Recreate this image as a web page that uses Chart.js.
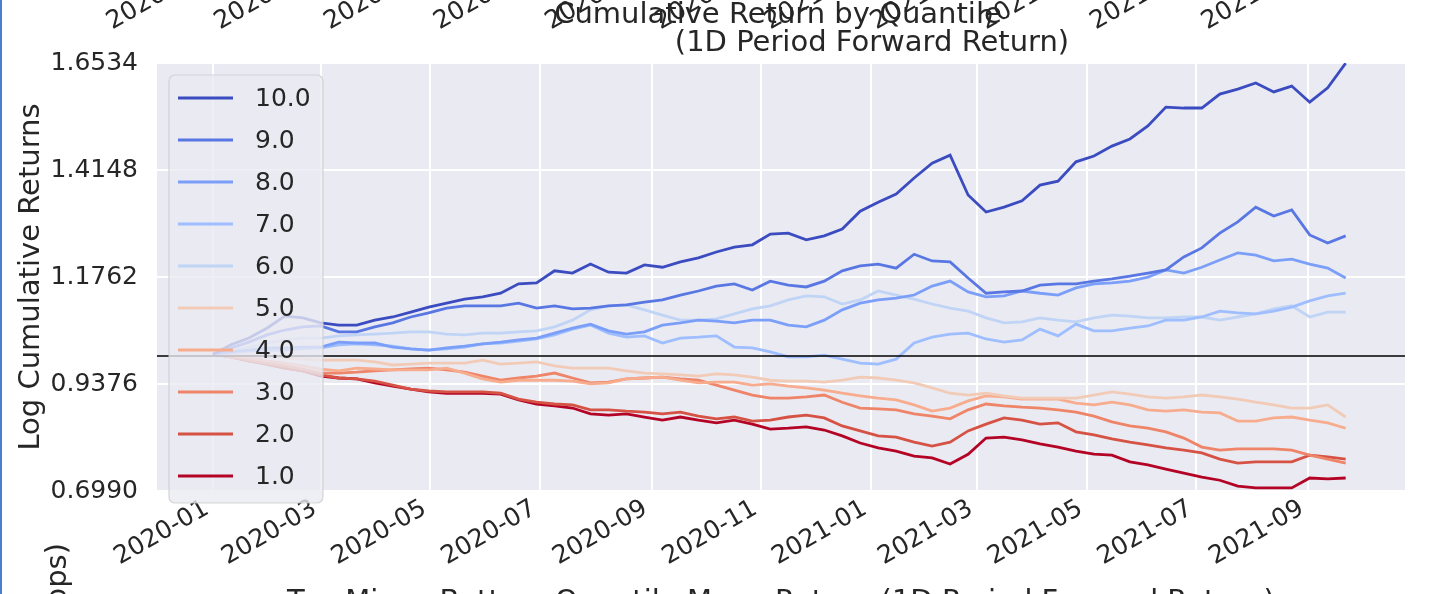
<!DOCTYPE html>
<html>
<head>
<meta charset="utf-8">
<script src="https://cdn.jsdelivr.net/npm/chart.js@4.4.1/dist/chart.umd.min.js"></script>
<style>
  html, body { margin: 0; padding: 0; background: #fff; }
  #wrap { width: 1438px; height: 594px; position: relative; overflow: hidden; }
</style>
</head>
<body>
<div id="wrap"><canvas id="chart" width="1438" height="594"></canvas></div>
<script>
// days since 2020-01-01
const days = [0, 10, 20, 30, 40, 50, 60, 70, 80, 90, 100, 110, 120, 130, 140, 150,
  160, 170, 180, 190, 200, 210, 220, 230, 240, 250, 260, 270, 280, 290, 300, 310,
  320, 330, 340, 350, 360, 370, 380, 390, 400, 410, 420, 430, 440, 450, 460, 470,
  480, 490, 500, 510, 520, 530, 540, 550, 560, 570, 580, 590, 600, 610, 620, 630];

const quantiles = ['10.0', '9.0', '8.0', '7.0', '6.0', '5.0', '4.0', '3.0', '2.0', '1.0'];
const colors = ['#3b4cc0', '#5977e3', '#7b9ff9', '#9ebeff', '#c0d4f5',
  '#f2cbb7', '#f7ac8e', '#ee8468', '#d65244', '#b40426'];

const q10 = [1.004, 1.025, 1.040, 1.062, 1.089, 1.085, 1.074, 1.069, 1.069, 1.080, 1.087, 1.098, 1.109, 1.118, 1.127, 1.132,
  1.140, 1.161, 1.163, 1.190, 1.185, 1.205, 1.187, 1.185, 1.203, 1.198, 1.210, 1.219, 1.232, 1.243, 1.248, 1.272,
  1.274, 1.259, 1.268, 1.283, 1.323, 1.343, 1.361, 1.397, 1.430, 1.448, 1.359, 1.321, 1.332, 1.346, 1.381, 1.390,
  1.433, 1.446, 1.468, 1.484, 1.513, 1.555, 1.553, 1.553, 1.584, 1.595, 1.609, 1.589, 1.602, 1.566, 1.598, 1.653];
const q9 = [1.004, 1.018, 1.031, 1.047, 1.058, 1.065, 1.067, 1.054, 1.054, 1.065, 1.074, 1.087, 1.096, 1.107, 1.112, 1.112,
  1.112, 1.118, 1.107, 1.112, 1.105, 1.107, 1.112, 1.114, 1.120, 1.125, 1.136, 1.145, 1.156, 1.161, 1.147, 1.167,
  1.158, 1.154, 1.167, 1.190, 1.201, 1.205, 1.196, 1.227, 1.212, 1.210, 1.174, 1.140, 1.143, 1.145, 1.158, 1.161,
  1.161, 1.167, 1.172, 1.178, 1.185, 1.192, 1.221, 1.241, 1.274, 1.299, 1.332, 1.312, 1.326, 1.270, 1.252, 1.268];
const q8 = [1.004, 1.009, 1.013, 1.018, 1.018, 1.020, 1.020, 1.031, 1.029, 1.029, 1.020, 1.016, 1.013, 1.018, 1.022, 1.027,
  1.031, 1.036, 1.040, 1.051, 1.062, 1.071, 1.056, 1.049, 1.054, 1.069, 1.074, 1.080, 1.078, 1.074, 1.080, 1.080,
  1.069, 1.065, 1.080, 1.103, 1.118, 1.125, 1.129, 1.136, 1.156, 1.167, 1.143, 1.132, 1.134, 1.145, 1.140, 1.136,
  1.152, 1.161, 1.163, 1.167, 1.176, 1.192, 1.185, 1.198, 1.214, 1.230, 1.225, 1.212, 1.216, 1.205, 1.196, 1.174];
const q7 = [1.004, 1.007, 1.011, 1.013, 1.013, 1.016, 1.018, 1.025, 1.027, 1.025, 1.022, 1.016, 1.013, 1.016, 1.020, 1.027,
  1.029, 1.033, 1.038, 1.047, 1.060, 1.069, 1.051, 1.042, 1.045, 1.029, 1.040, 1.042, 1.045, 1.020, 1.018, 1.009,
  0.998, 0.998, 1.002, 0.993, 0.984, 0.982, 0.993, 1.029, 1.042, 1.049, 1.051, 1.038, 1.031, 1.036, 1.060, 1.045,
  1.071, 1.056, 1.056, 1.062, 1.067, 1.080, 1.080, 1.087, 1.100, 1.096, 1.094, 1.100, 1.109, 1.123, 1.134, 1.140];
const q6 = [1.004, 1.013, 1.020, 1.029, 1.036, 1.040, 1.040, 1.045, 1.047, 1.049, 1.051, 1.054, 1.054, 1.049, 1.047, 1.051,
  1.051, 1.054, 1.056, 1.065, 1.080, 1.103, 1.112, 1.114, 1.103, 1.091, 1.080, 1.080, 1.083, 1.094, 1.105, 1.112,
  1.125, 1.134, 1.132, 1.116, 1.125, 1.145, 1.136, 1.127, 1.116, 1.107, 1.100, 1.085, 1.074, 1.076, 1.085, 1.080,
  1.076, 1.085, 1.091, 1.089, 1.085, 1.085, 1.087, 1.087, 1.080, 1.087, 1.094, 1.105, 1.112, 1.087, 1.098, 1.098];
const q5 = [1.004, 1.002, 1.000, 0.998, 0.996, 0.993, 0.991, 0.991, 0.991, 0.987, 0.980, 0.982, 0.984, 0.984, 0.984, 0.991,
  0.982, 0.984, 0.987, 0.978, 0.973, 0.973, 0.973, 0.967, 0.962, 0.960, 0.958, 0.955, 0.960, 0.958, 0.953, 0.946,
  0.944, 0.944, 0.942, 0.946, 0.953, 0.951, 0.946, 0.940, 0.929, 0.917, 0.913, 0.917, 0.911, 0.906, 0.906, 0.906,
  0.906, 0.913, 0.920, 0.915, 0.909, 0.906, 0.909, 0.913, 0.909, 0.904, 0.897, 0.891, 0.884, 0.884, 0.891, 0.864];
const q4 = [1.004, 1.000, 0.996, 0.989, 0.984, 0.978, 0.971, 0.967, 0.973, 0.971, 0.969, 0.969, 0.969, 0.973, 0.962, 0.949,
  0.942, 0.946, 0.946, 0.946, 0.944, 0.938, 0.940, 0.949, 0.951, 0.953, 0.946, 0.940, 0.942, 0.942, 0.935, 0.938,
  0.933, 0.929, 0.924, 0.917, 0.911, 0.906, 0.902, 0.891, 0.877, 0.884, 0.900, 0.911, 0.909, 0.904, 0.904, 0.904,
  0.895, 0.891, 0.897, 0.891, 0.880, 0.877, 0.880, 0.875, 0.873, 0.855, 0.855, 0.862, 0.864, 0.857, 0.851, 0.839];
const q3 = [1.004, 0.998, 0.991, 0.984, 0.978, 0.971, 0.962, 0.962, 0.964, 0.967, 0.969, 0.971, 0.973, 0.969, 0.964, 0.955,
  0.946, 0.951, 0.955, 0.962, 0.951, 0.940, 0.942, 0.949, 0.951, 0.953, 0.949, 0.946, 0.935, 0.924, 0.913, 0.906,
  0.906, 0.909, 0.913, 0.897, 0.884, 0.882, 0.880, 0.871, 0.866, 0.860, 0.880, 0.893, 0.889, 0.886, 0.884, 0.880,
  0.875, 0.866, 0.853, 0.844, 0.839, 0.831, 0.817, 0.797, 0.790, 0.793, 0.793, 0.793, 0.790, 0.779, 0.770, 0.761];
const q2 = [1.004, 0.998, 0.989, 0.982, 0.973, 0.967, 0.958, 0.951, 0.949, 0.944, 0.935, 0.926, 0.922, 0.920, 0.920, 0.920,
  0.917, 0.904, 0.897, 0.893, 0.891, 0.880, 0.880, 0.877, 0.875, 0.871, 0.875, 0.866, 0.860, 0.864, 0.855, 0.857,
  0.864, 0.868, 0.862, 0.844, 0.833, 0.822, 0.819, 0.808, 0.799, 0.808, 0.833, 0.848, 0.862, 0.857, 0.848, 0.851,
  0.831, 0.824, 0.815, 0.808, 0.802, 0.795, 0.790, 0.784, 0.770, 0.761, 0.764, 0.764, 0.764, 0.779, 0.775, 0.770];
const q1 = [1.004, 0.998, 0.989, 0.982, 0.973, 0.967, 0.955, 0.951, 0.949, 0.940, 0.933, 0.926, 0.920, 0.917, 0.917, 0.917,
  0.915, 0.902, 0.893, 0.889, 0.884, 0.871, 0.868, 0.871, 0.864, 0.857, 0.864, 0.857, 0.851, 0.857, 0.848, 0.837,
  0.839, 0.842, 0.835, 0.822, 0.806, 0.795, 0.788, 0.777, 0.773, 0.759, 0.781, 0.817, 0.819, 0.813, 0.804, 0.797,
  0.788, 0.781, 0.779, 0.764, 0.757, 0.748, 0.739, 0.730, 0.723, 0.710, 0.706, 0.706, 0.706, 0.728, 0.726, 0.728];

const series = [q10, q9, q8, q7, q6, q5, q4, q3, q2, q1];

const xTickDays = [0, 60, 121, 182, 244, 305, 366, 425, 486, 547, 609];
const xTickLabels = ['2020-01', '2020-03', '2020-05', '2020-07', '2020-09', '2020-11',
  '2021-01', '2021-03', '2021-05', '2021-07', '2021-09'];
const yTicks = [0.6990, 0.9376, 1.1762, 1.4148, 1.6534];

const FONT = 'DejaVu Sans';
const TEXT = '#262626';
const TICK_SIZE = 25;
const LABEL_SIZE = 29;
const X_LBL_PAD = 3;
const X_LBL_OFF = -6;
Chart.defaults.font.family = FONT;
Chart.defaults.color = TEXT;

const decor = {
  id: 'decor',
  beforeDraw(chart) {
    const { ctx, chartArea: a } = chart;
    ctx.save();
    ctx.fillStyle = '#ffffff';
    ctx.fillRect(0, 0, chart.width, chart.height);
    ctx.fillStyle = '#eaeaf2';
    ctx.fillRect(a.left, a.top, a.right - a.left, a.bottom - a.top);
    ctx.restore();
  },
  afterDatasetsDraw(chart) {
    const { ctx, chartArea: a, scales } = chart;
    // reference line at 1.0
    const y1 = scales.y.getPixelForValue(1.0);
    ctx.save();
    ctx.strokeStyle = '#000';
    ctx.lineWidth = 1.5;
    ctx.beginPath();
    ctx.moveTo(a.left, y1);
    ctx.lineTo(a.right, y1);
    ctx.stroke();

    // legend
    const bx = 169, by = 75, bw = 154, bh = 428, r = 6;
    ctx.beginPath();
    ctx.roundRect(bx, by, bw, bh, r);
    ctx.fillStyle = 'rgba(234,234,242,0.8)';
    ctx.fill();
    ctx.strokeStyle = 'rgba(204,204,204,0.8)';
    ctx.lineWidth = 1.2;
    ctx.stroke();
    ctx.font = TICK_SIZE + 'px ' + FONT;
    ctx.textBaseline = 'middle';
    ctx.textAlign = 'left';
    chart.data.datasets.forEach((ds, i) => {
      const yy = 98 + i * 42;
      ctx.strokeStyle = ds.borderColor;
      ctx.lineWidth = 3;
      ctx.beginPath();
      ctx.moveTo(178, yy);
      ctx.lineTo(233, yy);
      ctx.stroke();
      ctx.fillStyle = TEXT;
      ctx.fillText(ds.label, 255, yy + 1);
    });
    ctx.restore();
  },
  afterDraw(chart) {
    const { ctx, scales } = chart;
    ctx.save();
    ctx.fillStyle = TEXT;
    // cut-off tick labels of the chart above
    ctx.font = TICK_SIZE + 'px ' + FONT;
    xTickDays.forEach((d, i) => {
      const px = scales.x.getPixelForValue(d) - 21;
      ctx.save();
      ctx.translate(px, -41);
      ctx.rotate(-Math.PI / 6);
      ctx.textAlign = 'right';
      ctx.textBaseline = 'middle';
      ctx.fillText(xTickLabels[i], 0, TICK_SIZE * 0.6);
      ctx.restore();
    });
    // title
    ctx.font = LABEL_SIZE + 'px ' + FONT;
    ctx.textAlign = 'center';
    ctx.textBaseline = 'alphabetic';
    ctx.fillText('Cumulative Return by Quantile', 778, 23);
    ctx.fillText('(1D Period Forward Return)', 872, 51);
    // y axis title
    ctx.save();
    ctx.translate(31, 277);
    ctx.rotate(-Math.PI / 2);
    ctx.textAlign = 'center';
    ctx.textBaseline = 'middle';
    ctx.fillText('Log Cumulative Returns', 0, 0);
    ctx.restore();
    // pieces of the chart below
    ctx.fillText('Top Minus Bottom Quantile Mean Return (1D Period Forward Return)', 781, 610);
    ctx.save();
    ctx.translate(58, 543);
    ctx.rotate(-Math.PI / 2);
    ctx.textAlign = 'right';
    ctx.textBaseline = 'middle';
    ctx.fillText('Mean Return (bps)', 0, 0);
    ctx.restore();
    // window edge
    ctx.fillStyle = '#4a7fd0';
    ctx.fillRect(0, 0, 2, chart.height);
    ctx.restore();
  }
};

new Chart(document.getElementById('chart'), {
  type: 'line',
  data: {
    datasets: series.map((vals, i) => ({
      label: quantiles[i],
      data: days.map((d, j) => ({ x: d, y: vals[j] })),
      borderColor: colors[i],
      borderWidth: 2.8,
      pointRadius: 0,
      tension: 0,
      fill: false
    }))
  },
  options: {
    responsive: false,
    animation: false,
    devicePixelRatio: 1,
    layout: { padding: { top: 63, right: 33, bottom: 0, left: 0 } },
    plugins: { legend: { display: false }, tooltip: { enabled: false }, title: { display: false } },
    scales: {
      x: {
        type: 'linear',
        min: -31.1,
        max: 663.0,
        afterBuildTicks(scale) { scale.ticks = xTickDays.map(v => ({ value: v })); },
        afterFit(scale) { scale.height = 103; },
        ticks: {
          autoSkip: false,
          minRotation: 30,
          maxRotation: 30,
          padding: X_LBL_PAD,
          labelOffset: X_LBL_OFF,
          font: { size: TICK_SIZE },
          color: TEXT,
          callback: (v, i) => xTickLabels[i]
        },
        grid: { color: '#ffffff', lineWidth: 2, drawTicks: false },
        border: { display: false }
      },
      y: {
        min: 0.699,
        max: 1.6534,
        afterBuildTicks(scale) { scale.ticks = yTicks.map(v => ({ value: v })); },
        afterFit(scale) { scale.width = 157; },
        ticks: {
          padding: 19,
          font: { size: TICK_SIZE },
          color: TEXT,
          callback: v => v.toFixed(4)
        },
        grid: { color: '#ffffff', lineWidth: 2, drawTicks: false },
        border: { display: false }
      }
    }
  },
  plugins: [decor]
});
</script>
</body>
</html>
